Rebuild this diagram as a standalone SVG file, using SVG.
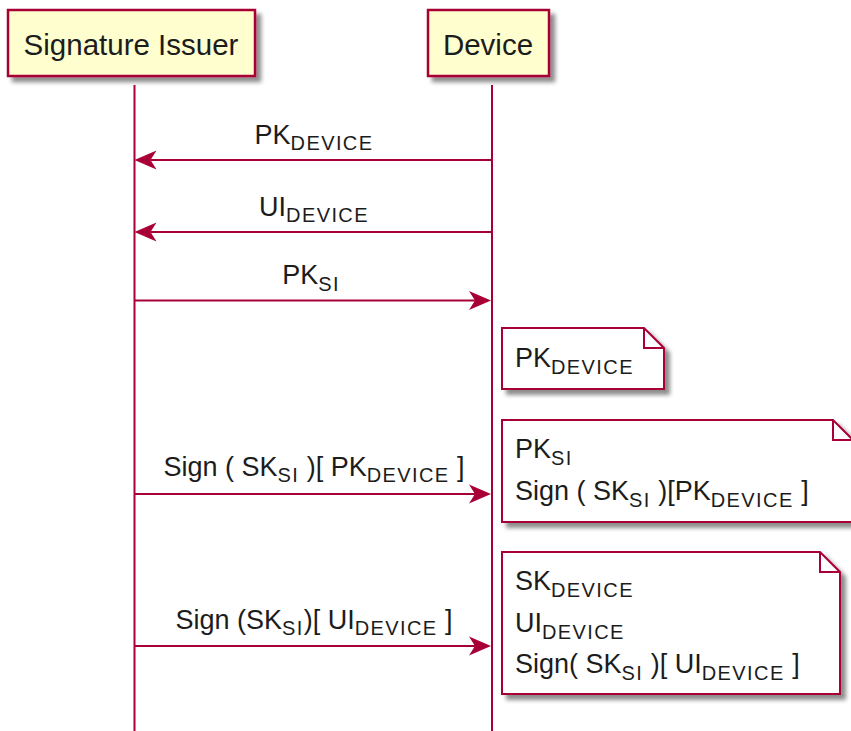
<svg xmlns="http://www.w3.org/2000/svg" width="851" height="731" viewBox="0 0 851 731">
  <style>
    .participant rect { fill: #FEFECE; stroke: #A80036; stroke-width: 2.5; }
    .ptext { font-family: "Liberation Sans", Arial, sans-serif; font-size: 29.5px; fill: #1c1c1c; text-anchor: middle; }
    .lifeline { stroke: #A80036; stroke-width: 2; fill: none; }
    .msg line { stroke: #A80036; stroke-width: 2; }
    .label { font-family: "Liberation Sans", Arial, sans-serif; font-size: 27px; fill: #1c1c1c; }
    .mid { text-anchor: middle; }
    .sub { font-size: 20px; letter-spacing: 1.4px; }
    .note path.body { fill: #FFFFFF; stroke: #A80036; stroke-width: 2; }
    .note path.fold { fill: none; stroke: #A80036; stroke-width: 2; }
  </style>
  <defs>
    <filter id="shadow" x="-10%" y="-10%" width="130%" height="140%">
      <feGaussianBlur in="SourceAlpha" stdDeviation="2.2"/>
      <feOffset dx="5" dy="5" result="blur"/>
      <feComponentTransfer><feFuncA type="linear" slope="0.45"/></feComponentTransfer>
      <feMerge><feMergeNode/><feMergeNode in="SourceGraphic"/></feMerge>
    </filter>
    <!-- arrowhead: reference point at the notch, tip 16px further along the line -->
    <marker id="head" markerUnits="userSpaceOnUse" markerWidth="24" markerHeight="22" refX="6" refY="10" orient="auto">
      <path d="M0,0.5 L22,10 L0,19.5 L6,10 Z" fill="#A80036"/>
    </marker>
  </defs>

  <!-- lifelines -->
  <g id="lifelines">
    <line class="lifeline" x1="134.5" y1="85" x2="134.5" y2="731"/>
    <line class="lifeline" x1="492" y1="85" x2="492" y2="731"/>
  </g>

  <!-- participants -->
  <g id="signature-issuer" class="participant">
    <rect x="8" y="10" width="247" height="66" filter="url(#shadow)"/>
    <text class="ptext" x="131" y="55">Signature Issuer</text>
  </g>
  <g id="device" class="participant">
    <rect x="428" y="10" width="121" height="66" filter="url(#shadow)"/>
    <text class="ptext" x="488" y="55">Device</text>
  </g>

  <!-- messages -->
  <g id="connectors" class="msg">
    <line x1="492" y1="160" x2="150.5" y2="160" marker-end="url(#head)"/>
    <line x1="492" y1="232" x2="150.5" y2="232" marker-end="url(#head)"/>
    <line x1="134.5" y1="300.5" x2="475" y2="300.5" marker-end="url(#head)"/>
    <line x1="134.5" y1="494" x2="475" y2="494" marker-end="url(#head)"/>
    <line x1="134.5" y1="646" x2="475" y2="646" marker-end="url(#head)"/>
  </g>

  <g id="message-labels">
    <text class="label mid" x="314" y="144">PK<tspan class="sub" dy="6">DEVICE</tspan></text>
    <text class="label mid" x="314" y="216">UI<tspan class="sub" dy="6">DEVICE</tspan></text>
    <text class="label mid" x="311" y="283.5">PK<tspan class="sub" dy="7">SI</tspan></text>
    <text class="label mid" x="314" y="476">Sign ( SK<tspan class="sub" dy="6">SI</tspan><tspan dy="-6"> )[ PK</tspan><tspan class="sub" dy="6">DEVICE</tspan><tspan dy="-6"> ]</tspan></text>
    <text class="label mid" x="314" y="629">Sign (SK<tspan class="sub" dy="6">SI</tspan><tspan dy="-6">)[ UI</tspan><tspan class="sub" dy="6">DEVICE</tspan><tspan dy="-6"> ]</tspan></text>
  </g>

  <!-- notes on Device -->
  <g id="note-1" class="note">
    <path class="body" d="M502,328 H644 L664,348 V389 H502 Z" filter="url(#shadow)"/>
    <path class="fold" d="M644,328 V348 H664"/>
    <text class="label" x="515" y="366.5">PK<tspan class="sub" dy="7">DEVICE</tspan></text>
  </g>
  <g id="note-2" class="note">
    <path class="body" d="M502,420 H833 L853,440 V522 H502 Z" filter="url(#shadow)"/>
    <path class="fold" d="M833,420 V440 H853"/>
    <text class="label" x="515" y="458">PK<tspan class="sub" dy="7">SI</tspan></text>
    <text class="label" x="515" y="500">Sign ( SK<tspan class="sub" dy="7">SI</tspan><tspan dy="-7"> )[PK</tspan><tspan class="sub" dy="7">DEVICE</tspan><tspan dy="-7"> ]</tspan></text>
  </g>
  <g id="note-3" class="note">
    <path class="body" d="M502,552 H820 L840,572 V694 H502 Z" filter="url(#shadow)"/>
    <path class="fold" d="M820,552 V572 H840"/>
    <text class="label" x="515" y="590">SK<tspan class="sub" dy="7">DEVICE</tspan></text>
    <text class="label" x="515" y="632">UI<tspan class="sub" dy="7">DEVICE</tspan></text>
    <text class="label" x="515" y="673">Sign( SK<tspan class="sub" dy="7">SI</tspan><tspan dy="-7"> )[ UI</tspan><tspan class="sub" dy="7">DEVICE</tspan><tspan dy="-7"> ]</tspan></text>
  </g>
</svg>
